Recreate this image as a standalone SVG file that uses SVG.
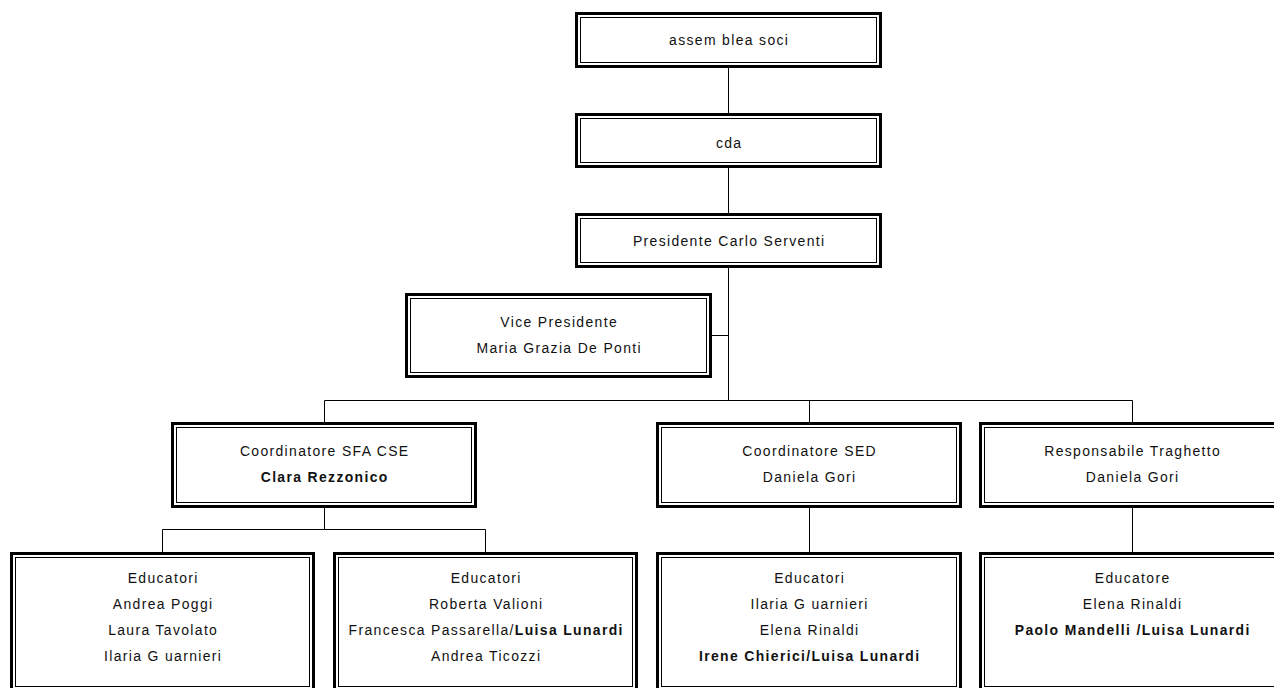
<svg xmlns="http://www.w3.org/2000/svg" width="1274" height="688" viewBox="0 0 1274 688">
<style>
.o{fill:#fff;stroke:#000;stroke-width:3}
.i{fill:none;stroke:#000;stroke-width:1}
.c{fill:none;stroke:#000;stroke-width:1}
text{font-family:"Liberation Sans",Arial,sans-serif;font-size:15.5px;letter-spacing:1.5px;text-anchor:middle;fill:#111}
.b{font-weight:bold}
</style>
<rect width="1274" height="688" fill="#fff"/>
<g id="connectors">
<path class="c" d="M728.5 68V113M728.5 168V213M728.5 268V400.5M712 335.5H728.5M324.5 400.5H1132.5M324.5 400.5V422M809.5 400.5V422M1132.5 400.5V422M324.5 508V529.5M162.5 529.5H485.5M162.5 529.5V552M485.5 529.5V552M809.5 508V552M1132.5 508V552"/>
</g>
<g id="assemblea">
<rect class="o" x="576.5" y="13.5" width="304" height="53"/><rect class="i" x="580.5" y="17.5" width="296" height="45"/>
<g transform="translate(728.5 0) scale(0.9 1)"><text x="0.75" y="45.5">assem blea soci</text></g>
</g>
<g id="cda">
<rect class="o" x="576.5" y="114.5" width="304" height="52"/><rect class="i" x="580.5" y="118.5" width="296" height="44"/>
<g transform="translate(728.5 0) scale(0.9 1)"><text x="0.75" y="148.5">cda</text></g>
</g>
<g id="presidente">
<rect class="o" x="576.5" y="214.5" width="304" height="52"/><rect class="i" x="580.5" y="218.5" width="296" height="44"/>
<g transform="translate(728.5 0) scale(0.9 1)"><text x="0.75" y="246.5">Presidente Carlo Serventi</text></g>
</g>
<g id="vice">
<rect class="o" x="406.5" y="294.5" width="304" height="82"/><rect class="i" x="410.5" y="298.5" width="296" height="74"/>
<g transform="translate(558.5 0) scale(0.9 1)">
<text x="0.75" y="327.5">Vice Presidente</text>
<text x="0.75" y="353.5">Maria Grazia De Ponti</text>
</g>
</g>
<g id="coord-sfa">
<rect class="o" x="172.5" y="423.5" width="303" height="83"/><rect class="i" x="176.5" y="427.5" width="295" height="75"/>
<g transform="translate(324 0) scale(0.9 1)">
<text x="0.75" y="456.5">Coordinatore SFA CSE</text>
<text x="0.75" y="482.5" class="b">Clara Rezzonico</text>
</g>
</g>
<g id="coord-sed">
<rect class="o" x="657.5" y="423.5" width="303" height="83"/><rect class="i" x="661.5" y="427.5" width="295" height="75"/>
<g transform="translate(809 0) scale(0.9 1)">
<text x="0.75" y="456.5">Coordinatore SED</text>
<text x="0.75" y="482.5">Daniela Gori</text>
</g>
</g>
<g id="traghetto">
<rect class="o" x="980.5" y="423.5" width="303" height="83"/><rect class="i" x="984.5" y="427.5" width="295" height="75"/>
<g transform="translate(1132 0) scale(0.9 1)">
<text x="0.75" y="456.5">Responsabile Traghetto</text>
<text x="0.75" y="482.5">Daniela Gori</text>
</g>
</g>
<g id="edu1">
<rect class="o" x="11.5" y="553.5" width="302" height="137"/><rect class="i" x="15.5" y="557.5" width="294" height="129"/>
<g transform="translate(162.5 0) scale(0.9 1)">
<text x="0.75" y="583.5">Educatori</text>
<text x="0.75" y="609.5">Andrea Poggi</text>
<text x="0.75" y="635.5">Laura Tavolato</text>
<text x="0.75" y="661.5">Ilaria G uarnieri</text>
</g>
</g>
<g id="edu2">
<rect class="o" x="334.5" y="553.5" width="302" height="137"/><rect class="i" x="338.5" y="557.5" width="294" height="129"/>
<g transform="translate(485.5 0) scale(0.9 1)">
<text x="0.75" y="583.5">Educatori</text>
<text x="0.75" y="609.5">Roberta Valioni</text>
<text x="0.75" y="635.5">Francesca Passarella/<tspan class="b">Luisa Lunardi</tspan></text>
<text x="0.75" y="661.5">Andrea Ticozzi</text>
</g>
</g>
<g id="edu3">
<rect class="o" x="657.5" y="553.5" width="303" height="137"/><rect class="i" x="661.5" y="557.5" width="295" height="129"/>
<g transform="translate(809 0) scale(0.9 1)">
<text x="0.75" y="583.5">Educatori</text>
<text x="0.75" y="609.5">Ilaria G uarnieri</text>
<text x="0.75" y="635.5">Elena Rinaldi</text>
<text x="0.75" y="661.5" class="b">Irene Chierici/Luisa Lunardi</text>
</g>
</g>
<g id="edu4">
<rect class="o" x="980.5" y="553.5" width="303" height="137"/><rect class="i" x="984.5" y="557.5" width="295" height="129"/>
<g transform="translate(1132 0) scale(0.9 1)">
<text x="0.75" y="583.5">Educatore</text>
<text x="0.75" y="609.5">Elena Rinaldi</text>
<text x="0.75" y="635.5" class="b">Paolo Mandelli /Luisa Lunardi</text>
</g>
</g>
</svg>
